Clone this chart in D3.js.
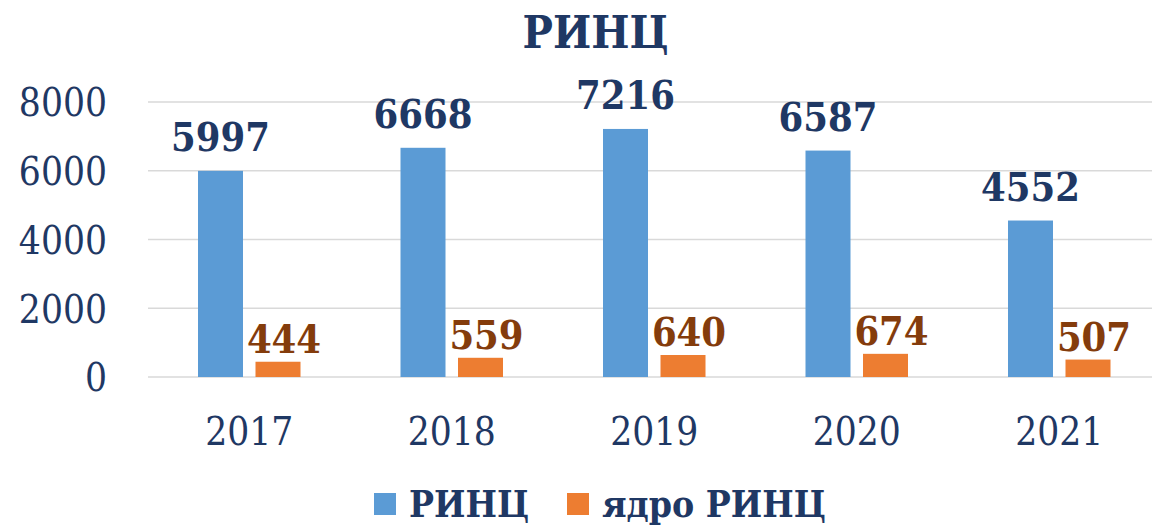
<!DOCTYPE html>
<html><head><meta charset="utf-8">
<script src="https://cdn.jsdelivr.net/npm/d3@7"></script>
<style>
html,body{margin:0;padding:0;background:#fff;}
svg text{font-family:"DejaVu Serif Condensed","DejaVu Serif",serif;font-stretch:condensed;}
</style></head>
<body><svg id="c" width="1152" height="529"></svg>
<script>
const years = ["2017","2018","2019","2020","2021"];
const seriesNames = ["РИНЦ","ядро РИНЦ"];
const rincValues = [5997,6668,7216,6587,4552];
const coreValues = [444,559,640,674,507];
const yTicks = [0,2000,4000,6000,8000];
const titleText = "РИНЦ";

const colors = ["#5B9BD5","#ED7D31"];
const labelColors = ["#1F3864","#843C0C"];
const textColor = "#1F3864";

const svg = d3.select("#c");
const x0 = d3.scaleBand().domain(years).range([148,1160.5]).paddingInner(0).paddingOuter(0);
const x1 = d3.scaleBand().domain(seriesNames).range([0,x0.bandwidth()]).paddingInner(0.2174).paddingOuter(0.8696);
const y = d3.scaleLinear().domain([0,8000]).range([377,102]);

// gridlines
svg.append("g").selectAll("line").data(yTicks).join("line")
  .attr("x1",148).attr("x2",1152)
  .attr("y1",d=>y(d)).attr("y2",d=>y(d))
  .attr("stroke","#D9D9D9").attr("stroke-width",1.5);

// y axis labels
const yAxis = d3.axisLeft(y).tickValues(yTicks).tickSize(0).tickPadding(0).tickFormat(d3.format("d"));
const ya = svg.append("g").attr("transform","translate(107,0)").call(yAxis);
ya.select(".domain").remove();
ya.selectAll("text").attr("font-size",38.5).attr("fill",textColor).attr("dy","0.36em")
  .style("font-family",'"DejaVu Serif Condensed","DejaVu Serif",serif');

// x axis labels
const xAxis = d3.axisBottom(x0).tickSize(0).tickPadding(0);
const xa = svg.append("g").attr("transform","translate(0,445)").call(xAxis);
xa.select(".domain").remove();
xa.selectAll("text").attr("font-size",38.5).attr("fill",textColor).attr("dy",0)
  .style("font-family",'"DejaVu Serif Condensed","DejaVu Serif",serif');

const data = years.map((yr,i)=>({year:yr, vals:[rincValues[i],coreValues[i]]}));
const groups = svg.append("g").selectAll("g").data(data).join("g")
  .attr("transform",d=>`translate(${x0(d.year)},0)`);

groups.selectAll("rect").data(d=>d.vals.map((v,j)=>({s:seriesNames[j],v,j}))).join("rect")
  .attr("x",d=>x1(d.s)).attr("width",x1.bandwidth())
  .attr("y",d=>y(d.v)).attr("height",d=>y(0)-y(d.v))
  .attr("fill",d=>colors[d.j]);

const gaps=[20,9];
groups.selectAll("text.lbl").data(d=>d.vals.map((v,j)=>({s:seriesNames[j],v,j}))).join("text")
  .attr("class","lbl")
  .attr("x",d=>x1(d.s)+x1.bandwidth()/2 + (d.j===1?6:0))
  .attr("y",d=>y(d.v)-gaps[d.j])
  .attr("text-anchor","middle")
  .attr("font-size",39.5).attr("font-weight","bold")
  .attr("fill",d=>labelColors[d.j])
  .text(d=>d.v);

// title
svg.append("text").attr("x",595.5).attr("y",48).attr("text-anchor","middle")
  .attr("font-size",45).attr("font-weight","bold").attr("fill",textColor).text(titleText);

// legend
const legX=[374,567];
const lg = svg.append("g").selectAll("g").data(seriesNames).join("g")
  .attr("transform",(d,i)=>`translate(${legX[i]},0)`);
lg.append("rect").attr("x",0).attr("y",493).attr("width",22).attr("height",22).attr("fill",(d,i)=>colors[i]);
lg.append("text").attr("x",35).attr("y",517).attr("font-size",37).attr("font-weight","bold")
  .attr("fill",textColor).text(d=>d);
</script></body></html>
